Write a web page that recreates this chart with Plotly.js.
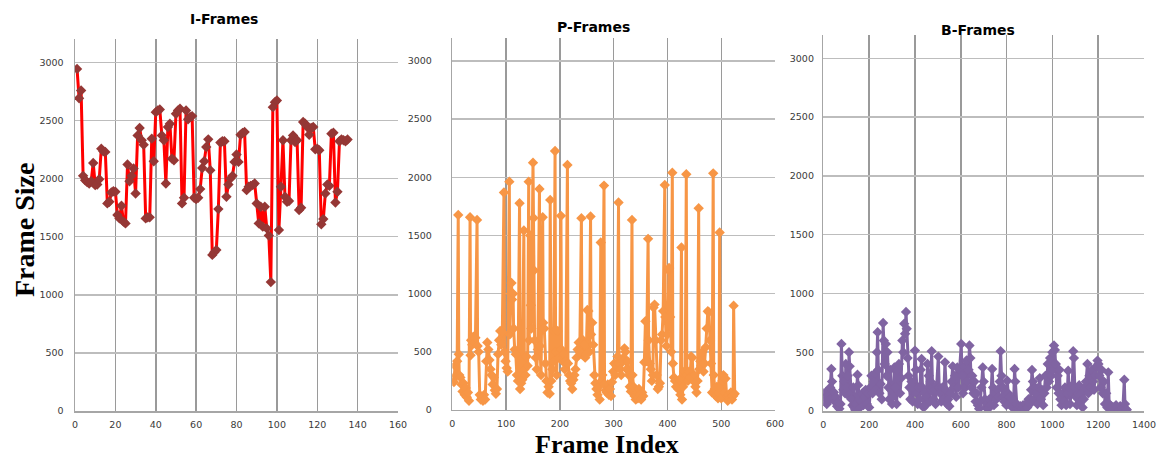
<!DOCTYPE html>
<html>
<head>
<meta charset="utf-8">
<script src="https://cdn.plot.ly/plotly-3.0.1.min.js"></script>
<style>html,body{margin:0;padding:0;background:#fff;}#chart{width:1158px;height:460px;}</style>
</head>
<body>
<div id="chart"></div>
<script>
// ---- I-Frames ----
const iFrameIdx = [1,2,3,4,5,6,7,8,9,10,11,12,13,14,15,16,17,18,19,20,21,22,23,24,25,26,27,28,29,30,31,32,33,34,35,36,37,38,39,40,41,42,43,44,45,46,47,48,49,50,51,52,53,54,55,56,57,58,59,60,61,62,63,64,65,66,67,68,69,70,71,72,73,74,75,76,77,78,79,80,81,82,83,84,85,86,87,88,89,90,91,92,93,94,95,96,97,98,99,100,101,102,103,104,105,106,107,108,109,110,111,112,113,114,115,116,117,118,119,120,121,122,123,124,125,126,127,128,129,130,131,132,133,134,135];
const iFrameSize = [2943,2691,2757,2023,1985,1970,1957,1977,2134,1943,1949,1994,2257,2234,2229,1786,1800,1880,1891,1886,1686,1657,1766,1629,1614,2120,1977,2023,2086,1871,2371,2434,2329,2291,1657,1666,1666,2343,2149,2571,2586,2594,2371,2329,1957,2443,2471,2171,2157,2557,2586,2600,1786,1834,2586,2509,2529,2537,1834,1823,1834,1909,2091,2149,2271,2337,2071,1343,1366,1386,1737,2309,2320,2320,1843,1949,2000,2023,2143,2206,2143,2377,2391,2400,1900,1929,1937,1943,1957,1786,1614,1757,1586,1757,1571,1509,1109,2614,2657,2671,1557,1929,2329,1843,1800,1806,2329,2371,2314,2329,1729,1749,2486,2471,2443,2377,2434,2443,2251,2257,2243,1606,1651,1871,1949,1937,2386,2394,1794,1886,2320,2337,2329,2320,2335];

// ---- P-Frames ----
const pFrameIdx = [1,3,5,7,9,11,12,13,15,17,19,21,23,25,27,29,31,33,34,35,37,39,41,43,46,47,49,51,53,55,57,59,61,63,65,67,69,71,73,75,77,79,81,83,85,87,89,91,93,96,97,99,101,103,106,107,109,110,111,113,114,116,118,120,122,125,126,128,130,133,134,136,138,140,142,143,145,146,147,150,151,152,153,155,157,159,162,163,165,168,169,171,173,175,177,179,181,182,184,186,188,189,191,192,194,196,198,200,202,203,205,207,209,211,214,215,217,219,221,223,225,227,229,231,233,235,237,240,241,243,245,247,249,251,253,255,257,258,260,262,264,266,268,270,272,274,276,277,279,282,283,285,287,289,291,293,295,297,299,301,303,305,307,309,310,312,314,316,318,320,322,324,326,328,330,332,334,335,337,339,341,343,345,347,349,351,353,355,357,359,361,364,365,367,369,371,373,374,376,378,380,382,384,386,388,390,392,395,396,398,400,402,403,405,407,409,410,412,414,416,418,420,422,424,426,427,429,431,433,435,436,438,440,442,444,446,448,450,452,454,456,458,459,461,463,465,467,469,471,473,475,477,479,481,483,485,486,488,490,492,494,496,497,498,500,502,504,506,508,510,512,514,516,518,520,522,523,525];
const pFrameSize = [260,240,380,300,420,1677,480,300,280,220,160,230,130,190,110,150,80,1657,470,600,560,630,580,620,1634,550,500,130,90,110,80,130,90,420,580,520,430,350,300,220,280,170,140,180,480,600,680,560,670,1869,500,420,360,330,1963,650,1000,1091,950,1000,700,520,480,300,250,1777,180,230,260,1543,350,300,460,380,1963,600,1500,900,700,2126,1650,1200,600,450,350,520,1900,550,300,1657,750,700,400,250,150,200,140,1806,250,350,420,680,2226,500,300,680,450,500,1669,520,420,480,350,420,2106,400,300,250,230,180,260,300,350,450,520,580,500,1649,480,600,560,450,480,860,850,500,1663,650,750,560,300,230,180,130,200,90,1440,250,300,1929,220,170,150,220,130,180,120,240,330,400,300,380,460,1783,400,350,300,440,420,530,500,350,420,300,200,160,1634,300,200,120,90,150,100,180,130,90,150,120,410,763,420,1471,600,400,350,250,300,880,906,600,300,180,200,230,600,650,850,1934,800,550,650,1200,1220,800,500,2040,400,280,250,200,240,180,260,130,1397,90,200,330,250,2026,300,250,330,280,460,450,250,300,200,150,250,1734,350,420,380,500,330,400,540,700,849,840,600,400,150,2034,300,180,120,200,100,150,1526,180,100,250,300,150,270,120,80,130,100,150,90,120,897,140];

// ---- B-Frames ----
const bFrameIdx = [0,5,10,15,20,25,30,35,38,42,46,50,55,60,65,70,75,79,83,87,91,95,98,102,106,110,112,115,119,123,127,131,135,139,143,149,152,156,160,165,170,175,180,185,190,195,200,205,210,215,220,225,230,234,237,240,245,250,255,261,264,268,273,276,280,284,288,292,296,300,305,310,315,320,325,330,335,340,345,349,353,357,361,364,368,372,376,380,385,390,395,400,404,408,412,416,420,425,429,433,438,442,446,450,455,460,465,469,473,477,481,486,490,495,502,506,510,515,520,525,531,535,540,545,550,555,560,565,570,575,580,585,590,596,602,606,610,615,620,625,630,634,638,642,646,650,655,660,665,670,675,680,685,690,696,700,705,710,715,720,725,730,737,741,745,750,755,760,765,770,774,778,782,786,790,795,799,803,807,811,815,820,825,830,835,838,842,846,850,855,860,866,872,878,884,890,896,902,907,911,915,920,925,930,935,940,945,950,955,960,965,970,975,980,985,990,995,1000,1004,1007,1011,1015,1019,1023,1027,1031,1035,1040,1045,1050,1055,1060,1065,1069,1073,1077,1082,1087,1091,1094,1098,1102,1107,1112,1117,1122,1127,1132,1137,1142,1147,1153,1157,1162,1167,1172,1177,1182,1187,1192,1197,1201,1205,1210,1215,1220,1225,1230,1235,1240,1244,1248,1252,1257,1262,1267,1272,1278,1284,1290,1296,1302,1308,1314,1317,1320,1325];
const bFrameSize = [150,80,160,60,130,90,200,357,250,120,160,80,120,40,70,20,60,571,300,180,250,150,400,200,300,130,500,380,150,100,50,200,30,10,60,309,220,100,30,80,150,50,120,180,60,150,30,200,300,150,250,320,180,500,671,350,150,230,100,749,600,400,571,300,500,200,100,350,180,60,120,370,200,60,350,400,150,280,600,500,743,657,843,700,450,300,200,100,250,80,200,514,350,150,60,200,100,350,443,200,30,150,50,120,400,300,80,250,509,200,100,180,60,220,463,200,150,80,200,100,414,180,60,100,40,150,250,380,200,300,120,370,200,350,571,300,150,380,200,430,250,350,557,450,200,300,150,250,80,150,50,20,80,200,371,250,100,30,60,20,100,50,357,200,50,150,100,180,120,250,509,300,120,200,80,150,50,257,150,60,120,40,100,30,357,250,60,20,50,10,40,20,50,10,60,30,100,60,180,349,250,100,200,150,60,200,280,100,180,50,150,300,200,400,250,450,300,500,350,557,520,400,200,300,150,350,100,50,150,80,200,50,150,343,200,60,150,220,509,450,200,120,50,150,220,80,150,30,100,200,250,400,150,300,200,350,250,180,300,380,429,400,300,200,350,150,250,60,150,30,329,60,20,40,10,30,5,50,20,10,40,15,30,266,60,20,10];

const panelTitles = ['I-Frames', 'P-Frames', 'B-Frames'];
const yAxisTitle = 'Frame Size';
const xAxisTitle = 'Frame Index';

const traces = [
  {x: iFrameIdx, y: iFrameSize, xaxis: 'x', yaxis: 'y', type: 'scatter', mode: 'lines+markers',
   line: {color: '#ff0000', width: 3}, marker: {symbol: 'diamond', size: 8, color: '#953735'}},
  {x: pFrameIdx, y: pFrameSize, xaxis: 'x2', yaxis: 'y2', type: 'scatter', mode: 'lines+markers',
   line: {color: '#f79646', width: 3}, marker: {symbol: 'diamond', size: 8, color: '#f79646'}},
  {x: bFrameIdx, y: bFrameSize, xaxis: 'x3', yaxis: 'y3', type: 'scatter', mode: 'lines+markers',
   line: {color: '#8064a2', width: 3}, marker: {symbol: 'diamond', size: 8, color: '#8064a2'}}
];

const tickFont = {family: 'DejaVu Sans', size: 9.5, color: '#3a3a3a'};
function xax(domain, range, dtick) {
  return {domain: domain, range: range, dtick: dtick, tick0: 0, showgrid: true, gridcolor: '#9a9a9a', gridwidth: 1.5,
    zeroline: false, showline: true, linecolor: '#a6a6a6', linewidth: 1.5, ticks: '', tickfont: tickFont,
    ticklabelstandoff: 4, fixedrange: true};
}
function yax(domain, anchor, standoff) {
  return {domain: domain, anchor: anchor, range: [0, 3200], dtick: 500, tick0: 0, showgrid: true, gridcolor: '#bdbdbd', gridwidth: 1.5,
    zeroline: false, showline: true, linecolor: '#a6a6a6', linewidth: 1.5, ticks: '', tickfont: tickFont,
    ticklabelstandoff: standoff, fixedrange: true};
}

const layout = {
  width: 1158, height: 460,
  margin: {l: 0, r: 0, t: 0, b: 0},
  paper_bgcolor: '#ffffff', plot_bgcolor: '#ffffff',
  showlegend: false,
  xaxis: Object.assign(xax([0.0648, 0.3437], [0, 160], 20), {anchor: 'y'}),
  yaxis: yax([0.1065, 0.9152], 'x', 8),
  xaxis2: Object.assign(xax([0.3906, 0.6693], [0, 600], 100), {anchor: 'y2'}),
  yaxis2: yax([0.1087, 0.918], 'x2', 17),
  xaxis3: Object.assign(xax([0.711, 0.9879], [0, 1400], 200), {anchor: 'y3'}),
  yaxis3: yax([0.1065, 0.9243], 'x3', 6),
  annotations: [
    {text: '<b>' + panelTitles[0] + '</b>', x: 0.1934, y: 0.9587, xref: 'paper', yref: 'paper', xanchor: 'center', yanchor: 'middle', showarrow: false, font: {family: 'DejaVu Sans', size: 14, color: '#000'}},
    {text: '<b>' + panelTitles[1] + '</b>', x: 0.5121, y: 0.9413, xref: 'paper', yref: 'paper', xanchor: 'center', yanchor: 'middle', showarrow: false, font: {family: 'DejaVu Sans', size: 14, color: '#000'}},
    {text: '<b>' + panelTitles[2] + '</b>', x: 0.8446, y: 0.9348, xref: 'paper', yref: 'paper', xanchor: 'center', yanchor: 'middle', showarrow: false, font: {family: 'DejaVu Sans', size: 14, color: '#000'}},
    {text: '<b>' + yAxisTitle + '</b>', x: 0.0207, y: 0.502, xref: 'paper', yref: 'paper', xanchor: 'center', yanchor: 'middle', textangle: -90, showarrow: false, font: {family: 'Liberation Serif', size: 28, color: '#000'}},
    {text: '<b>' + xAxisTitle + '</b>', x: 0.5242, y: 0, xref: 'paper', yref: 'paper', xanchor: 'center', yanchor: 'bottom', borderpad: 0, showarrow: false, font: {family: 'Liberation Serif', size: 26, color: '#000'}}
  ]
};

Plotly.newPlot('chart', traces, layout, {displayModeBar: false, staticPlot: true});
</script>
</body>
</html>
